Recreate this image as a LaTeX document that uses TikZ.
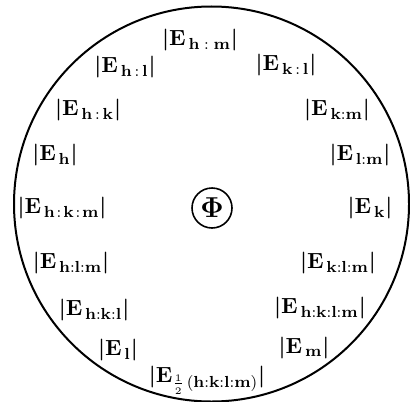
\documentclass[tikz,border=0pt]{standalone}
\usepackage{amsmath,amssymb}
\usepackage{tikz}
\usetikzlibrary{positioning}
\tikzset{
  efflabel/.style={inner sep=0pt, font=\fontsize{11}{13}\selectfont},
  effcentre/.style={circle, draw, line width=0.8pt, minimum size=20pt, inner sep=0pt, font=\Large},
}
\newcommand{\effl}[1]{$\boldsymbol{\lvert}\mathbf{E}_{\,\mathbf{#1}}\boldsymbol{\rvert}$}

\begin{document}
\begin{tikzpicture}[x=0.5pt, y=-0.5pt]
  \useasboundingbox (0,0) rectangle (410,401);
  % outer circle
  \draw[line width=1pt] (211.5,204) circle [radius=98.75pt];
  \node[effcentre] (phi) at (212,208) {$\boldsymbol{\Phi}$};
  % upper half
  \node[efflabel] (hm) at (200,40) {\effl{h\;:\;m}};
  \node[efflabel] (hl) at (125,67) {\effl{h\,:\,l}};
  \node[efflabel] (kl) at (286,65) {\effl{k\,:\,l}};
  \node[efflabel] (hk) at (88,110) {\effl{h\,:\,k}};
  \node[efflabel] (km) at (337,110) {\effl{k:m}};
  \node[efflabel] (h) at (55,155) {\effl{h}};
  \node[efflabel] (lm) at (360,155) {\effl{l:m}};
  \node[efflabel] (hkm) at (62,208) {\effl{h\mkern2mu:\mkern2mu k\mkern2mu:\mkern2mu m}};
  \node[efflabel] (k) at (370,208) {\effl{k}};
  % lower half
  \node[efflabel] (hlm) at (71,263) {\effl{h:l:m}};
  \node[efflabel] (klm) at (338,263) {\effl{k:l:m}};
  \node[efflabel] (hkl) at (94,310) {\effl{h:k:l}};
  \node[efflabel] (hklm) at (320,308) {\effl{h:k:l:m}};
  \node[efflabel] (l) at (118,350) {\effl{l}};
  \node[efflabel] (m) at (304,348) {\effl{m}};
  \node[efflabel] (half) at (207,380) {$\boldsymbol{\lvert}\mathbf{E}_{\frac{1}{2}\,\mathbf{(h:k:l:m)}}\boldsymbol{\rvert}$};
\end{tikzpicture}
\end{document}
